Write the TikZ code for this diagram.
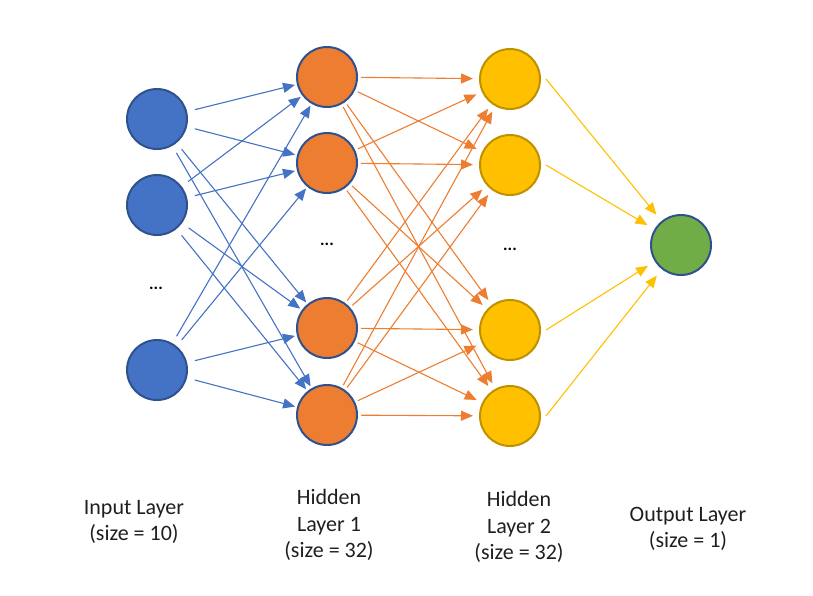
\documentclass[tikz,border=0pt]{standalone}
\usepackage{fontspec}
\setmainfont{Carlito}
\usetikzlibrary{arrows.meta}
\definecolor{cblue}{HTML}{4472C4}
\definecolor{cblueb}{HTML}{2F528F}
\definecolor{corange}{HTML}{ED7D31}
\definecolor{cyellow}{HTML}{FFC000}
\definecolor{cyellowb}{HTML}{BF9000}
\definecolor{cgreen}{HTML}{70AD47}
\begin{document}
\begin{tikzpicture}[x=1pt,y=-1pt,
  neuron/.style={circle,minimum size=60pt,inner sep=0pt,line width=2pt},
  inp/.style={neuron,fill=cblue,draw=cblueb},
  hidA/.style={neuron,fill=corange,draw=cblueb},
  hidB/.style={neuron,fill=cyellow,draw=cyellowb},
  outn/.style={neuron,fill=cgreen,draw=cblueb},
  conn/.style={line width=1.1pt,-{Triangle[length=12pt,width=10pt]}},
  dots/.style={font=\fontsize{17}{18}\selectfont\bfseries,inner sep=0pt},
  lbl/.style={font=\fontsize{22}{26.5}\selectfont,align=center,text=black!88}
]
\useasboundingbox (0,0) rectangle (813,595);
% input layer
\node[inp] (i1) at (157,119) {};
\node[inp] (i2) at (157,205) {};
\node[inp] (i3) at (157,370) {};
\node[dots] (di) at (156,288) {...};
% hidden layer 1
\node[hidA] (h1) at (327,77) {};
\node[hidA] (h2) at (327,163) {};
\node[hidA] (h3) at (327,328) {};
\node[hidA] (h4) at (327,415) {};
\node[dots] (dh) at (327,244) {...};
% hidden layer 2
\node[hidB] (g1) at (510,79) {};
\node[hidB] (g2) at (510,165) {};
\node[hidB] (g3) at (510,330) {};
\node[hidB] (g4) at (510,416) {};
\node[dots] (dg) at (510,249) {...};
% output
\node[outn] (o) at (681,245) {};
% connections
\foreach \a in {i1,i2,i3}
  \foreach \b in {h1,h2,h3,h4}
    \draw[conn,cblue,shorten <=8pt,shorten >=2pt] (\a) -- (\b);
\foreach \a in {h1,h2,h3,h4}
  \foreach \b in {g1,g2,g3,g4}
    \draw[conn,corange,shorten <=3pt,shorten >=6pt] (\a) -- (\b);
\foreach \a in {g1,g2,g3,g4}
  \draw[conn,cyellow,shorten >=8pt] ([xshift=5pt]\a.east) -- (o);
% labels
\node[lbl] (li) at (134,522) {Input Layer\\(size = 10)};
\node[lbl] (lh) at (329,525) {Hidden\\Layer 1\\(size = 32)};
\node[lbl] (lg) at (519,527) {Hidden\\Layer 2\\(size = 32)};
\node[lbl] (lo) at (688,529) {Output Layer\\(size = 1)};
\end{tikzpicture}
\end{document}
